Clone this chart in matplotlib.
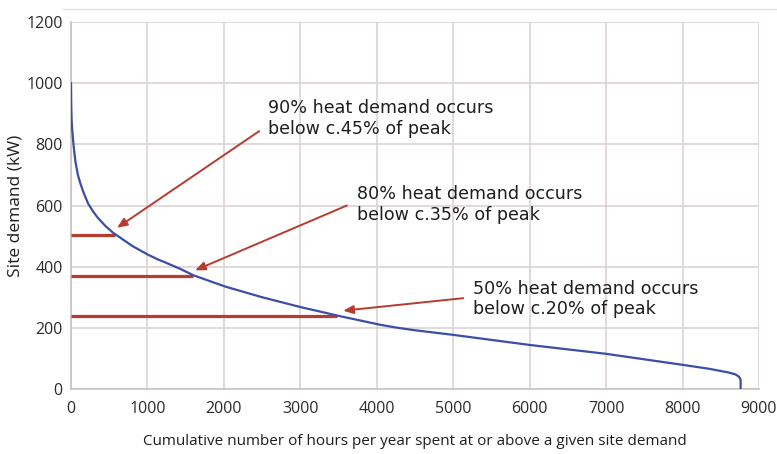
import matplotlib
matplotlib.use("Agg")
import matplotlib.pyplot as plt
from matplotlib.lines import Line2D

# load duration curve
hours = [0, 3, 8, 15, 25, 40, 60, 90, 125, 160, 222, 290, 350, 450, 550,
         800, 1000, 1125, 1250, 1427, 1600, 2016, 2500, 3000, 3521, 4045,
         4250, 4500, 5000, 6000, 7000, 8000, 8350, 8600, 8690, 8740, 8760,
         8760]
demand = [1000, 930, 880, 850, 820, 780, 740, 700, 670, 645, 607, 580, 560,
          533, 511, 468, 440, 425, 412, 393, 372, 335, 300, 268, 238, 210,
          201, 192, 177, 144, 115, 79, 66, 54, 48, 40, 30, 0]

# red marker lines
mark_levels = [505, 370, 240]
mark_ends = [580, 1600, 3480]

# annotations
notes = ["90% heat demand occurs\nbelow c.45% of peak",
         "80% heat demand occurs\nbelow c.35% of peak",
         "50% heat demand occurs\nbelow c.20% of peak"]
note_pos = [(2580, 884), (3745, 602), (5265, 294)]
arrow_from = [(2461, 843), (3609, 600), (5131, 297)]
arrow_to = [(602, 527), (1623, 388), (3560, 256)]

blue = "#3b4ea6"
red = "#b83b2f"
grid_col = "#ddd3d3"

fig = plt.figure(figsize=(7.77, 4.54), dpi=100)
ax = fig.add_axes([0.0914, 0.1432, 0.8854, 0.8083])

ax.set_xlim(0, 9000)
ax.set_ylim(0, 1200)
ax.set_xticks(range(0, 9001, 1000))
ax.set_yticks(range(0, 1201, 200))
ax.grid(True, color=grid_col, lw=1.2)
ax.set_axisbelow(True)
for s in ["top", "right"]:
    ax.spines[s].set_visible(False)
for s in ["left", "bottom"]:
    ax.spines[s].set_color("#c9c3c3")
    ax.spines[s].set_linewidth(1.2)
ax.tick_params(length=0, labelsize=11.5, labelcolor="#2b2b2b")
ax.tick_params(axis="x", pad=9)
ax.tick_params(axis="y", pad=6)
for lab in ax.get_xticklabels() + ax.get_yticklabels():
    lab.set_fontfamily("Open Sans")

ax.hlines(mark_levels, 0, mark_ends, color=red, lw=2.3, zorder=3)
ax.plot(hours, demand, color=blue, lw=1.6, zorder=4)

for txt, pos, a0, a1 in zip(notes, note_pos, arrow_from, arrow_to):
    ax.annotate("", xy=a1, xytext=a0,
                arrowprops=dict(arrowstyle="-|>,head_length=0.6,head_width=0.25",
                                color=red, lw=1.4, shrinkA=0, shrinkB=0),
                zorder=5)
    ax.text(pos[0], pos[1], txt, fontsize=12.6, color="#1e1e1e",
            family="DejaVu Sans", va="center", ha="left", linespacing=1.2)

ax.set_xlabel("Cumulative number of hours per year spent at or above a given site demand",
              fontsize=11, family="Open Sans", color="#1e1e1e", labelpad=12)
ax.set_ylabel("Site demand (kW)", fontsize=12.5, family="Open Sans",
              color="#1e1e1e")
ax.yaxis.set_label_coords(-0.069, 0.5)

# faint frame line across the top of the panel
fig.add_artist(Line2D([63 / 777, 1.0], [1 - 9 / 454, 1 - 9 / 454],
                      color="#e4e4e4", lw=1.0))

fig.savefig("out.png", dpi=100)
